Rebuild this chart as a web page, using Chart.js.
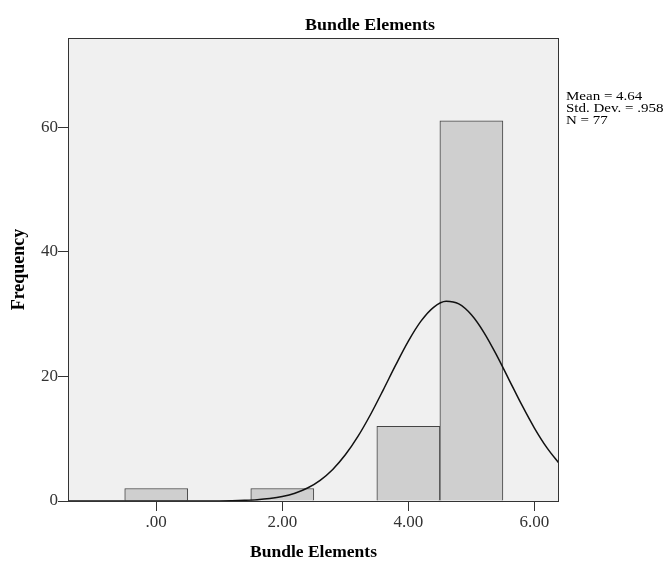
<!DOCTYPE html>
<html>
<head>
<meta charset="utf-8">
<script src="https://cdn.jsdelivr.net/npm/chart.js@4"></script>
<style>
  html, body { margin: 0; padding: 0; background: #fff; }
</style>
</head>
<body>
<canvas id="histChart" width="669" height="563"></canvas>
<script>
// histogram bins (bin centre -> count)
const binCenters = [0, 2, 4, 5];
const frequencies = [2, 2, 12, 61];

// normal curve
const curveX = [-1.4, 0.6, 1.0, 1.2, 1.4, 1.6, 1.8, 2.0, 2.2, 2.4, 2.6, 2.8, 3.0, 3.2, 3.4, 3.6,
                3.8, 4.0, 4.2, 4.4, 4.6, 4.8, 5.0, 5.2, 5.4, 5.6, 5.8, 6.0, 6.2, 6.4];
const curveY = [0, 0, 0.02, 0.05, 0.11, 0.21, 0.40, 0.72, 1.25, 2.08, 3.32, 5.07, 7.41, 10.36, 13.88, 17.79,
                21.84, 25.66, 28.86, 31.08, 32.04, 31.62, 29.88, 27.03, 23.41, 19.41, 15.41, 11.71, 8.52, 5.93];

const xTickLabels = { 0: '.00', 2: '2.00', 4: '4.00', 6: '6.00' };
const statLines = ['Mean = 4.64', 'Std. Dev. = .958', 'N = 77'];
const chartTitle = 'Bundle Elements';

const serif = '"Liberation Serif", "Times New Roman", serif';

const frame = {
  id: 'frame',
  beforeDraw(chart) {
    const { ctx, chartArea: a } = chart;
    ctx.save();
    ctx.fillStyle = '#f0f0f0';
    ctx.fillRect(a.left, a.top, a.right - a.left, a.bottom - a.top);
    ctx.restore();
  },
  afterDraw(chart) {
    const { ctx, chartArea: a } = chart;
    ctx.save();
    ctx.strokeStyle = '#333';
    ctx.lineWidth = 1;
    ctx.strokeRect(Math.round(a.left) + 0.5, Math.round(a.top) + 0.5,
                   Math.round(a.right - a.left) - 1, Math.round(a.bottom - a.top));
    ctx.fillStyle = '#000';
    ctx.textBaseline = 'middle';
    // title (the original font is a bit wide, so stretch it)
    ctx.save();
    ctx.translate(370, 26);
    ctx.scale(1.12, 1);
    ctx.font = 'bold 16px ' + serif;
    ctx.textAlign = 'center';
    ctx.fillText(chartTitle, 0, 0);
    ctx.restore();
    // stats text
    ctx.font = '12.5px ' + serif;
    ctx.textAlign = 'left';
    statLines.forEach((s, i) => {
      ctx.save();
      ctx.translate(566, 97 + i * 12);
      ctx.scale(1.2, 1);
      ctx.fillText(s, 0, 0);
      ctx.restore();
    });
    ctx.restore();
  }
};

const ctx = document.getElementById('histChart').getContext('2d');
const myChart = new Chart(ctx, {
  type: 'bar',
  data: {
    datasets: [{
      type: 'line',
      data: curveX.map((x, i) => ({ x: x, y: curveY[i] })),
      borderColor: '#111',
      borderWidth: 1.5,
      pointRadius: 0,
      fill: false,
      cubicInterpolationMode: 'monotone',
      order: 0
    }, {
      type: 'bar',
      data: binCenters.map((x, i) => ({ x: x, y: frequencies[i] })),
      backgroundColor: '#cfcfcf',
      borderColor: '#444',
      borderWidth: 1,
      barPercentage: 1,
      categoryPercentage: 1,
      order: 1
    }]
  },
  options: {
    responsive: false,
    animation: false,
    layout: { padding: { top: 38, right: 110, left: 0, bottom: 0 } },
    plugins: {
      legend: { display: false },
      tooltip: { enabled: false }
    },
    scales: {
      x: {
        type: 'linear',
        min: -1.4,
        max: 6.39,
        offset: false,
        grid: { offset: false, drawOnChartArea: false, tickLength: 10, color: '#333' },
        border: { display: false },
        ticks: {
          stepSize: 2,
          includeBounds: false,
          padding: 1,
          color: '#333',
          font: { family: serif, size: 17 },
          callback: v => xTickLabels[v] ?? ''
        },
        title: {
          display: true,
          text: 'Bundle Elements',
          color: '#000',
          font: { family: serif, size: 17.5, weight: 'bold' },
          padding: 0
        },
        afterFit(s) { s.height = 62; }
      },
      y: {
        min: 0,
        max: 74.3,
        grid: { drawOnChartArea: false, tickLength: 10, color: '#333' },
        border: { display: false },
        ticks: {
          stepSize: 20,
          includeBounds: false,
          padding: 0,
          color: '#333',
          font: { family: serif, size: 17 }
        },
        title: {
          display: true,
          text: 'Frequency',
          color: '#000',
          font: { family: serif, size: 18, weight: 'bold' },
          padding: 9
        },
        afterFit(s) { s.width = 68; }
      }
    }
  },
  plugins: [frame]
});
</script>
</body>
</html>
